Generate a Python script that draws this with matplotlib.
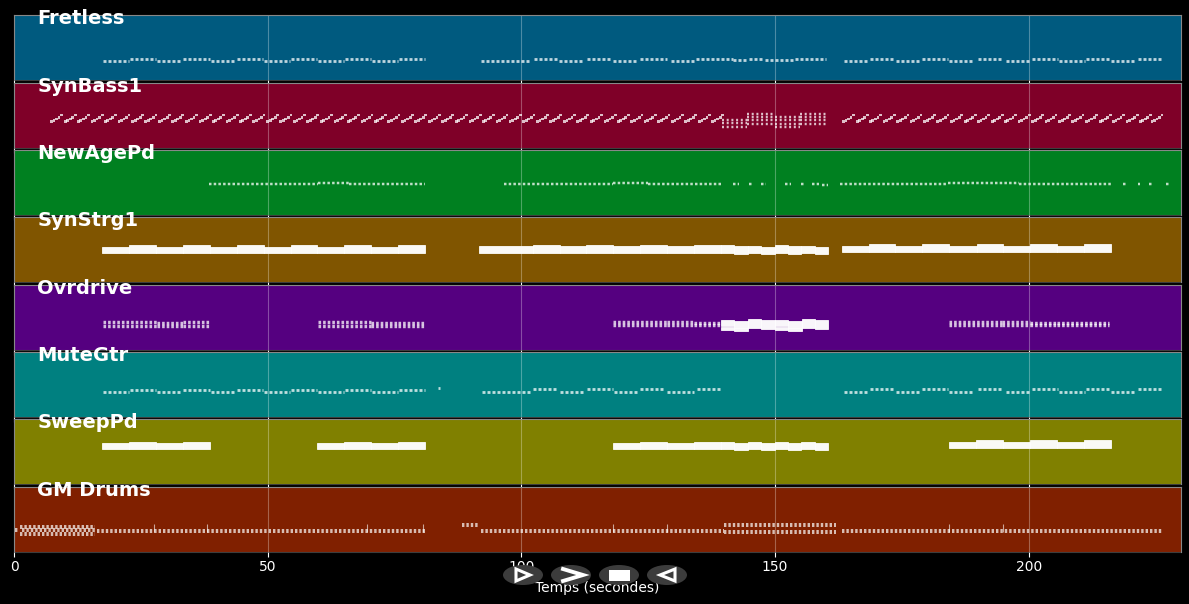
import matplotlib
matplotlib.use('Agg')
import matplotlib.pyplot as plt
from matplotlib.patches import Ellipse, Polygon, Rectangle

plt.rcParams['lines.scale_dashes'] = False

track_names = ['Fretless', 'SynBass1', 'NewAgePd', 'SynStrg1', 'Ovrdrive', 'MuteGtr', 'SweepPd', 'GM Drums']
track_colors = ['#005a7f', '#7f0028', '#008020', '#805500', '#550080', '#008080', '#808000', '#802000']
panel_tops = [15, 83, 150, 217, 285, 352, 419, 487]

# dashed runs of short notes: (start, end, pitch)
fretless_runs = [
    (17.5, 22.7, 19), (22.8, 28, 20.7), (28.1, 33.2, 19), (33.4, 38.6, 20.7), (38.8, 43.8, 19), (44, 49, 20.7),
    (49.3, 54.4, 19), (54.6, 59.7, 20.7), (60, 65, 19), (65.2, 70.3, 20.7), (70.5, 75.6, 19), (75.8, 81, 20.7),
    (92.1, 101.9, 19), (102.4, 107.3, 20.7), (107.5, 112.4, 19), (113, 117.6, 20.7), (118, 122.8, 19),
    (123.3, 128.7, 20.7), (129.4, 134, 19), (134.5, 141.8, 20.7), (141.8, 144.5, 20), (144.8, 147.7, 21.5),
    (148, 153.7, 20.5), (153.9, 160, 21),
    (163.5, 168.5, 19), (168.8, 173.4, 20.7), (173.8, 178.7, 19), (179, 184, 20.7), (184.2, 189, 19),
    (190, 195, 20.7), (195.5, 200.3, 19), (200.7, 205.7, 20.7), (206, 211, 19), (211.2, 215.8, 20.7),
    (216.2, 221, 19), (221.5, 226.2, 20.7),
]
mutegtr_runs = [
    (17.5, 22.7, 25), (22.8, 28, 27.2), (28.1, 33.2, 25), (33.4, 38.6, 27.2), (38.8, 43.8, 25), (44, 49, 27.2),
    (49.3, 54.4, 25), (54.6, 59.7, 27.2), (60, 65, 25), (65.2, 70.3, 27.2), (70.5, 75.6, 25), (75.8, 81, 27.2),
    (83.5, 84, 29), (92.2, 102, 25.5), (102.3, 107.3, 27.7), (107.6, 112.4, 25.5), (113, 118, 27.7),
    (118.3, 123, 25.5), (123.4, 128.2, 27.7), (128.6, 134, 25.5), (134.6, 139.3, 27.7),
    (163.5, 168.5, 25.5), (168.8, 173.4, 28.5), (173.8, 178.7, 25.5), (179, 184, 28.5), (184.2, 189, 25.5),
    (190, 195, 28.5), (195.5, 200.3, 25.5), (200.7, 205.7, 28.5), (206, 211, 25.5), (211.2, 215.8, 28.5),
    (216.2, 221, 25.5), (221.5, 226.2, 28.5),
]
newage_runs = [
    (38.4, 60, 31), (60, 66, 31.6), (66, 81, 31), (96.5, 118, 31.5), (118, 125, 32), (125, 139.3, 31.5),
    (141.7, 142.9, 31), (144.8, 145.6, 31), (147.3, 148.3, 31), (152, 153.2, 31), (155.2, 155.9, 31.5),
    (157.2, 158.6, 31.5), (159.3, 160.5, 30.5), (162.7, 184, 31.5), (184, 198, 32), (198, 216.5, 31.5),
    (218.6, 219.2, 31.5), (221.5, 222, 31.5), (223.7, 224.4, 31.5), (227, 227.7, 31.5),
]
ovrdrive_runs = [
    (17.6, 28.2, 28), (17.6, 28.2, 24.5), (28.2, 33.3, 27), (28.2, 33.3, 24.5), (33.3, 38.6, 28), (33.3, 38.6, 24.5),
    (60, 70.4, 28), (60, 70.4, 24.5), (70.4, 75.7, 27), (70.4, 75.7, 24.5), (75.7, 81, 27), (75.7, 81, 24.5),
    (118, 128.6, 28.5), (118, 128.6, 25), (128.6, 134, 28), (128.6, 134, 25), (134, 139.3, 27), (134, 139.3, 25),
    (184.3, 194.8, 28.5), (184.3, 194.8, 25), (194.8, 200.3, 28), (194.8, 200.3, 25), (200.3, 205.6, 27),
    (200.3, 205.6, 25), (205.6, 215.8, 27), (205.6, 215.8, 25),
]
drum_runs = [
    (0.2, 1, 22), (1.2, 16, 25), (1.6, 16, 22), (1.2, 16, 18.5), (16.3, 81, 21), (92, 140, 21), (88.2, 91.6, 27.5),
    (140, 162, 27.5), (140, 162, 20.5), (163.2, 226.3, 21.5),
]
synbass_runs = [
    (139.5, 144.5, 28), (139.5, 144.5, 25), (139.5, 144.5, 21), (144.5, 150, 34), (144.5, 150, 31), (144.5, 150, 28),
    (144.5, 150, 24), (150, 155, 31), (150, 155, 28), (150, 155, 24), (150, 155, 21), (155, 160.5, 34),
    (155, 160.5, 31), (155, 160.5, 28), (155, 160.5, 24),
]

# the bass riff: group onsets, then the shape of one group
riff_starts = [
    7.1, 9.8, 12.4, 15.1, 17.7, 20.4, 23.1, 25.7, 28.4, 31, 33.7, 36.4, 39, 41.7, 44.3, 47, 49.7, 52.3, 55, 57.6,
    60.3, 63, 65.6, 68.3, 70.9, 73.6, 76.3, 78.9, 81.6, 84.2, 86.9, 89.6, 92.2, 94.9, 97.5, 100.2, 102.9, 105.5,
    108.2, 110.8, 113.5, 116.2, 118.8, 121.5, 124.1, 126.8, 129.5, 132.1, 134.8, 137.4,
    163.2, 165.9, 168.5, 171.2, 173.9, 176.5, 179.2, 181.8, 184.5, 187.2, 189.8, 192.5, 195.1, 197.8, 200.5, 203.1,
    205.8, 208.4, 211.1, 213.8, 216.4, 219.1, 221.7, 224,
]
riff_times = [0, 0.5, 1.0, 1.5, 2.0]
riff_pitches = [25.5, 26.5, 28, 29.5, 32]

# long held chords: (start, end, bottom, top)
strings_chords = [
    (17.4, 22.7, 29, 35.3), (22.7, 28, 29, 36.7), (28, 33.3, 29, 35.3), (33.3, 38.6, 29, 36.7),
    (38.6, 43.9, 29, 35.3), (43.9, 49.2, 29, 36.7), (49.2, 54.5, 29, 35.3), (54.5, 59.8, 29, 36.7),
    (59.8, 65.1, 29, 35.3), (65.1, 70.4, 29, 36.7), (70.4, 75.7, 29, 35.3), (75.7, 81, 29, 36.7),
    (91.6, 102.3, 29, 36), (102.3, 107.6, 29.5, 37), (107.6, 112.8, 29, 36), (112.8, 118, 29, 37),
    (118, 123.3, 29, 36), (123.3, 128.6, 29, 37), (128.6, 134, 29, 36), (134, 139.3, 29.5, 37),
    (139.3, 141.9, 29.5, 37), (141.9, 144.6, 28, 36), (144.6, 147.3, 29.5, 36.5), (147.3, 150, 27.7, 35.5),
    (150, 152.6, 29.5, 37), (152.6, 155.2, 28, 36), (155.2, 157.9, 29.5, 36.5), (157.9, 160.5, 27.7, 35.5),
    (163.2, 168.5, 29.7, 36.3), (168.5, 173.6, 29.7, 37.7), (173.6, 179, 29.7, 36.3), (179, 184.2, 29.7, 37.7),
    (184.2, 189.7, 29.7, 36.3), (189.7, 195, 29.7, 37.7), (195, 200.3, 29.7, 36.3), (200.3, 205.6, 29.7, 37.7),
    (205.6, 210.9, 29.7, 36.3), (210.9, 216.2, 29.7, 37.7),
]
sweep_chords = [
    (17.4, 22.7, 34.7, 41.3), (22.7, 28, 34.7, 42.3), (28, 33.3, 34.7, 41.3), (33.3, 38.6, 34.7, 42.3),
    (59.8, 65.1, 34.7, 41.3), (65.1, 70.4, 34.7, 42.3), (70.4, 75.7, 34.7, 41.3), (75.7, 81, 34.7, 42.3),
    (118, 123.3, 35, 41.5), (123.3, 128.6, 35, 42.5), (128.6, 134, 35, 41.5), (134, 139.3, 35, 42.5),
    (139.3, 141.9, 35, 42.5), (141.9, 144.6, 34, 41), (144.6, 147.3, 35, 42), (147.3, 150, 34, 41),
    (150, 152.6, 35, 42.5), (152.6, 155.2, 34, 41), (155.2, 157.9, 35, 42), (157.9, 160.5, 34, 41.3),
    (184.3, 189.6, 36.3, 42.3), (189.6, 195, 36.3, 44), (195, 200.3, 36.3, 42.3), (200.3, 205.6, 36.3, 44),
    (205.6, 210.9, 36.3, 42.3), (210.9, 216.3, 36.3, 44),
]
ovrdrive_chords = [
    (139.4, 141.9, 23.6, 30), (139.4, 141.9, 20, 23.2), (141.9, 144.7, 21.9, 28.6), (141.9, 144.7, 18.7, 21.5),
    (144.7, 147.3, 21.7, 31.3), (147.3, 150, 20.7, 30), (150, 152.6, 23.6, 30), (150, 152.6, 20, 23.2),
    (152.6, 155.3, 21.9, 28.6), (152.6, 155.3, 18.7, 21.5), (155.3, 157.9, 21.7, 31.3), (157.9, 160.5, 20.7, 30),
]

# the few drum hits that stand above the groove
drum_peak_times = [27.5, 38, 69.6, 80.7, 118, 128.7, 184.3, 195]

x_ticks = [0, 50, 100, 150, 200]

fig, axes = plt.subplots(8, 1, figsize=(11.89, 6.04), dpi=100, sharex=True, facecolor='black')
for ax, top in zip(axes, panel_tops):
    ax.set_position([14 / 1189, 1 - (top + 65) / 604, 1167 / 1189, 65 / 604])


def draw_runs(ax, runs, height, on, off, alpha=0.75):
    for start, end, pitch in runs:
        ax.hlines(pitch, start, end, colors='white', alpha=alpha, linewidth=height * 0.72,
                  linestyles=(0, (on * 0.72, off * 0.72)), capstyle='butt', zorder=3)


def draw_chords(ax, chords):
    for start, end, bottom, top in chords:
        ax.bar(start, top - bottom, width=end - start, bottom=bottom, align='edge', color='white',
               edgecolor='white', linewidth=0.6, alpha=0.97, zorder=3)


for ax, name, color in zip(axes, track_names, track_colors):
    ax.set_facecolor(color)
    ax.set_xlim(0, 230)
    ax.set_ylim(0, 65)
    ax.set_yticks([])
    ax.set_xticks(x_ticks)
    ax.grid(axis='x', color='white', alpha=0.3, linewidth=0.8, zorder=1)
    ax.set_axisbelow(True)
    ax.tick_params(axis='x', colors='white', labelsize=10, length=3.5, pad=2.5)
    for spine in ax.spines.values():
        spine.set_color('#888888')
        spine.set_linewidth(0.8)
    ax.spines['bottom'].set_alpha(0.45)
    ax.text(0.02, 56 / 65, name, transform=ax.transAxes, color='white', fontsize=14, fontweight='bold', zorder=5)

draw_runs(axes[0], fretless_runs, 2.8, 3, 2)
for onset in riff_starts:
    axes[1].bar([onset + t for t in riff_times], 2.2, width=0.55, bottom=riff_pitches, align='edge',
                color='white', alpha=0.75, linewidth=0, zorder=3)
draw_runs(axes[1], synbass_runs, 2.4, 2, 2.7)
draw_runs(axes[2], newage_runs, 2.5, 2.5, 2.2)
draw_chords(axes[3], strings_chords)
draw_runs(axes[4], ovrdrive_runs, 3.4, 2.6, 2)
draw_chords(axes[4], ovrdrive_chords)
draw_runs(axes[5], mutegtr_runs, 2.8, 3, 2)
draw_chords(axes[6], sweep_chords)
draw_runs(axes[7], drum_runs, 4, 2.4, 2, alpha=0.7)
axes[7].vlines(drum_peak_times, 20, 28, colors='white', alpha=0.6, linewidth=0.8, zorder=3)
axes[7].set_xlabel('Temps (secondes)', color='white', fontsize=10, labelpad=5)

# play buttons sit over the axis, in pixel coordinates
overlay = fig.add_axes([0, 0, 1, 1], zorder=10)
overlay.set_xlim(0, 1189)
overlay.set_ylim(604, 0)
overlay.axis('off')
for cx in [523, 571, 619, 667]:
    overlay.add_patch(Ellipse((cx, 575), 40, 20, facecolor='#3c3c3c', edgecolor='none'))
overlay.add_patch(Polygon([(516, 569), (530, 575), (516, 581)], closed=True, fill=False, edgecolor='white', linewidth=2.2))
overlay.plot([563, 583, 563], [569, 575, 581], color='white', linewidth=2.8, solid_joinstyle='miter')
overlay.add_patch(Rectangle((609, 570), 21, 11, facecolor='white', edgecolor='none'))
overlay.add_patch(Polygon([(675, 569), (660, 575), (675, 581)], closed=True, fill=False, edgecolor='white', linewidth=2.2))

fig.savefig('out.png', dpi=100, facecolor='black')
